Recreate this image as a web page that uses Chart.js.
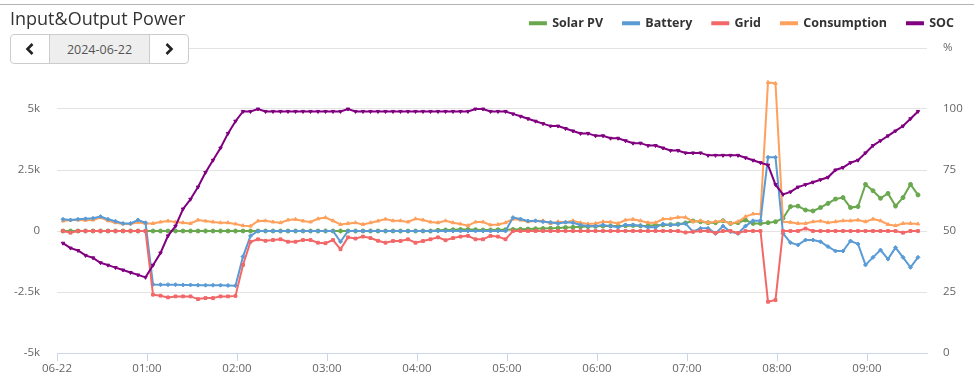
<!DOCTYPE html>
<html lang="en">
<head>
    <meta charset="utf-8" />
    <title>Input&amp;Output Power</title>
    <script src="https://cdn.jsdelivr.net/npm/chart.js@4.4.0/dist/chart.umd.min.js"></script>
    <style>
        body { margin: 0; background: #fff; font-family: "Open Sans", sans-serif; }
        .wrap { position: relative; width: 974px; height: 390px; overflow: hidden; }
        #powerChart { position: absolute; left: 0; top: 0; }
        .topline { position: absolute; left: 0; top: 4px; width: 974px; height: 1px; background: #b3b3b3; }
        .title { position: absolute; left: 10px; top: 5px; font-size: 18px; line-height: 26px; color: #333; }
        .datenav { position: absolute; left: 10px; top: 34px; width: 177px; height: 28px; border: 1px solid #ccc; border-radius: 4px; background: #fff; display: flex; overflow: hidden; }
        .datenav .btn { width: 39px; display: flex; align-items: center; justify-content: center; }
        .datenav .day { width: 100px; border-left: 1px solid #ccc; border-right: 1px solid #ccc; background: #eee; color: #555; font-size: 12.5px; display: flex; align-items: center; justify-content: center; }
    </style>
</head>
<body>
    <div class="wrap">
        <canvas id="powerChart" width="974" height="390"></canvas>
        <div class="topline"></div>
        <div class="title">Input&amp;Output Power</div>
        <div class="datenav">
            <div class="btn"><svg width="10" height="14"><polyline points="7.5,2 2.5,7 7.5,12" fill="none" stroke="#222" stroke-width="2.6" /></svg></div>
            <div class="day">2024-06-22</div>
            <div class="btn"><svg width="10" height="14"><polyline points="2.5,2 7.5,7 2.5,12" fill="none" stroke="#222" stroke-width="2.6" /></svg></div>
        </div>
    </div>

    <script>
        // sample times (5 min log)
        var times = [
            "00:04", "00:09", "00:14", "00:19", "00:24", "00:29", "00:34", "00:39", "00:44", "00:49", "00:54", "00:59",
            "01:04", "01:09", "01:14", "01:19", "01:24", "01:29", "01:34", "01:39", "01:44", "01:49", "01:54", "01:59",
            "02:04", "02:09", "02:14", "02:19", "02:24", "02:29", "02:34", "02:39", "02:44", "02:49", "02:54", "02:59",
            "03:04", "03:09", "03:14", "03:19", "03:24", "03:29", "03:34", "03:39", "03:44", "03:49", "03:54", "03:59",
            "04:04", "04:09", "04:14", "04:19", "04:24", "04:29", "04:34", "04:39", "04:44", "04:49", "04:54", "04:59",
            "05:04", "05:09", "05:14", "05:19", "05:24", "05:29", "05:34", "05:39", "05:44", "05:49", "05:54", "05:59",
            "06:04", "06:09", "06:14", "06:19", "06:24", "06:29", "06:34", "06:39", "06:44", "06:49", "06:54", "06:59",
            "07:04", "07:09", "07:14", "07:19", "07:24", "07:29", "07:34", "07:39", "07:44", "07:49", "07:54", "07:59",
            "08:04", "08:09", "08:14", "08:19", "08:24", "08:29", "08:34", "08:39", "08:44", "08:49", "08:54", "08:59",
            "09:04", "09:09", "09:14", "09:19", "09:24", "09:29", "09:34"
        ];

        var solarPV = [
            0, 0, 0, 0, 0, 0, 0, 0, 0, 0, 0, 0,
            0, 0, 0, 0, 0, 0, 0, 0, 0, 0, 0, 0,
            0, 0, 0, 0, 0, 0, 0, 0, 0, 0, 0, 0,
            0, 0, 0, 0, 0, 0, 0, 0, 0, 0, 0, 0,
            0, 0, 30, 40, 50, 60, 60, 50, 40, 40, 50, 50,
            60, 70, 80, 90, 100, 110, 120, 140, 150, 170, 180, 190,
            200, 210, 200, 220, 230, 210, 220, 240, 250, 260, 280, 330,
            410, 380, 340, 340, 420, 310, 340, 450, 310, 310, 340, 380,
            520, 1000, 1020, 860, 820, 960, 1130, 1310, 1370, 960, 1000, 1910,
            1650, 1340, 1540, 1020, 1370, 1910, 1480
        ];

        var battery = [
            480, 450, 480, 500, 520, 590, 480, 400, 310, 310, 450, 340,
            -2190, -2200, -2200, -2200, -2210, -2210, -2220, -2220, -2220, -2220, -2230, -2240,
            -1050, -200, 0, 0, 0, 0, 0, 0, 0, 0, 0, 0,
            0, -440, 0, 0, 0, 0, 0, 0, 0, 0, 0, 0,
            0, 0, 0, 0, 0, 0, 0, 0, 0, 0, 0, 0,
            550, 490, 410, 420, 380, 360, 310, 360, 340, 250, 200, 200,
            250, 200, 150, 250, 250, 220, 150, 150, 290, 250, 270, 310,
            -30, 110, 110, -100, 200, -30, -100, 200, 420, 420, 3020, 3020,
            -100, -480, -570, -370, -370, -440, -640, -820, -820, -410, -530, -1390,
            -1080, -780, -1150, -680, -1080, -1490, -1080
        ];

        var grid = [
            0, -70, 0, 0, 0, 0, 0, 0, 0, 0, 0, 0,
            -2610, -2650, -2720, -2680, -2680, -2680, -2790, -2750, -2750, -2680, -2680, -2660,
            -1390, -440, -340, -400, -370, -340, -440, -440, -370, -370, -480, -500,
            -370, -750, -260, -310, -230, -290, -400, -480, -410, -410, -340, -480,
            -410, -340, -260, -380, -290, -230, -200, -340, -340, -200, -230, -340,
            0, 0, 0, 0, 0, 0, 0, 0, 0, 0, 0, 0,
            0, 0, 0, 0, 0, 0, 0, 0, 0, 0, 0, -60,
            -30, 0, 0, -80, 0, 0, -80, 0, 0, 0, -2900, -2830,
            0, 0, 0, 100, 0, 0, 0, 0, 0, 0, 0, 0,
            0, 0, 0, 0, -70, 0, 0
        ];

        var consumption = [
            410, 450, 450, 440, 450, 550, 420, 340, 290, 290, 360, 310,
            310, 370, 410, 370, 340, 310, 450, 410, 370, 340, 340, 290,
            220, 200, 410, 420, 370, 340, 450, 480, 410, 370, 500, 550,
            420, 270, 310, 340, 270, 340, 410, 490, 420, 420, 370, 500,
            450, 370, 340, 420, 340, 290, 220, 370, 370, 250, 270, 340,
            490, 450, 380, 410, 420, 310, 380, 360, 420, 340, 290, 310,
            380, 370, 310, 450, 480, 420, 340, 340, 490, 500, 560, 560,
            380, 420, 340, 380, 420, 310, 380, 590, 700, 700, 6090, 6050,
            380, 360, 310, 310, 380, 410, 340, 380, 420, 420, 450, 380,
            490, 420, 270, 220, 310, 310, 290
        ];

        var soc = [
            45, 43, 42, 40, 39, 37, 36, 35, 34, 33, 32, 31,
            36, 41, 48, 52, 59, 63, 68, 74, 79, 84, 90, 95,
            99, 99, 100, 99, 99, 99, 99, 99, 99, 99, 99, 99,
            99, 99, 100, 99, 99, 99, 99, 99, 99, 99, 99, 99,
            99, 99, 99, 99, 99, 99, 99, 100, 100, 99, 99, 99,
            98, 97, 96, 95, 94, 93, 93, 92, 91, 90, 90, 89,
            89, 88, 88, 87, 86, 86, 85, 85, 84, 83, 83, 82,
            82, 82, 81, 81, 81, 81, 81, 80, 79, 78, 77, 69,
            65, 66, 68, 69, 70, 71, 72, 75, 76, 78, 79, 82,
            85, 87, 89, 91, 93, 96, 99
        ];

        var powerTicks = { min: -5000, max: 7500, step: 2500 };
        var socTicks = { min: 0, max: 125, step: 25 };

        function toMinutes(t) {
            var p = t.split(':');
            return parseInt(p[0], 10) * 60 + parseInt(p[1], 10);
        }

        function points(values) {
            return times.map(function (t, i) {
                return { x: toMinutes(t), y: values[i] };
            });
        }

        Chart.defaults.font.family = '"Open Sans", sans-serif';

        var lineStyle = {
            borderWidth: 2,
            pointRadius: 2,
            pointHoverRadius: 3,
            pointBorderWidth: 1,
            tension: 0
        };

        // top grid line of the power axis, drawn from the scale itself
        var topGridLine = {
            id: 'topGridLine',
            afterDraw: function (chart) {
                var y = chart.scales.y;
                var py = Math.round(y.getPixelForValue(powerTicks.max)) + 0.5;
                var c = chart.ctx;
                c.save();
                c.strokeStyle = '#e3e3e3';
                c.lineWidth = 1;
                c.beginPath();
                c.moveTo(chart.chartArea.left, py);
                c.lineTo(chart.chartArea.right, py);
                c.stroke();
                c.restore();
            }
        };

        var ctx = document.getElementById('powerChart').getContext('2d');

        var powerChart = new Chart(ctx, {
            type: 'line',
            data: {
                datasets: [
                    Object.assign({ label: 'Solar PV', data: points(solarPV), borderColor: '#6aa84f', backgroundColor: '#6aa84f', pointStyle: 'circle', yAxisID: 'y', order: 4 }, lineStyle),
                    Object.assign({ label: 'Battery', data: points(battery), borderColor: '#5b9bd5', backgroundColor: '#5b9bd5', pointStyle: 'rectRot', yAxisID: 'y', order: 2 }, lineStyle),
                    Object.assign({ label: 'Grid', data: points(grid), borderColor: '#f26868', backgroundColor: '#f26868', pointStyle: 'rect', yAxisID: 'y', order: 1 }, lineStyle),
                    Object.assign({ label: 'Consumption', data: points(consumption), borderColor: '#ffa05c', backgroundColor: '#ffa05c', pointStyle: 'triangle', yAxisID: 'y', order: 3 }, lineStyle),
                    Object.assign({ label: 'SOC', data: points(soc), borderColor: '#800080', backgroundColor: '#800080', pointStyle: 'triangle', rotation: 180, yAxisID: 'y2', order: 0 }, lineStyle)
                ]
            },
            options: {
                responsive: false,
                animation: false,
                layout: {
                    padding: { top: -3, left: 0, right: 0, bottom: 0 }
                },
                plugins: {
                    legend: {
                        position: 'top',
                        align: 'end',
                        labels: {
                            boxWidth: 16,
                            boxHeight: 2,
                            padding: 20,
                            color: '#333',
                            font: { size: 12.5, weight: 'bold' },
                            sort: function (a, b) { return a.datasetIndex - b.datasetIndex; }
                        }
                    },
                    tooltip: { enabled: false }
                },
                scales: {
                    x: {
                        type: 'linear',
                        min: 0,
                        max: 580,
                        grid: { drawOnChartArea: false, color: '#ccd6eb', tickLength: 8 },
                        border: { color: '#ccd6eb' },
                        ticks: {
                            stepSize: 60,
                            includeBounds: false,
                            autoSkip: false,
                            maxRotation: 0,
                            padding: 1,
                            color: '#666',
                            font: { size: 11.5 },
                            callback: function (v) {
                                if (v === 0) return '06-22';
                                var h = Math.floor(v / 60);
                                return (h < 10 ? '0' : '') + h + ':00';
                            }
                        },
                        afterFit: function (scale) { scale.height = 37; }
                    },
                    y: {
                        position: 'left',
                        min: powerTicks.min,
                        max: powerTicks.max,
                        grid: { color: '#e3e3e3', drawTicks: false },
                        border: { display: false },
                        ticks: {
                            stepSize: powerTicks.step,
                            padding: 17,
                            color: '#666',
                            font: { size: 11.5 },
                            callback: function (v) {
                                if (v === 0) return '0';
                                return (v / 1000) + 'k'; // top label sits under the date box
                            }
                        },
                        afterFit: function (scale) { scale.width = 57; }
                    },
                    y2: {
                        position: 'right',
                        min: socTicks.min,
                        max: socTicks.max,
                        grid: { drawOnChartArea: false, drawTicks: false },
                        border: { display: false },
                        ticks: {
                            stepSize: socTicks.step,
                            padding: 16,
                            color: '#666',
                            font: { size: 11.5 },
                            callback: function (v) {
                                return v === socTicks.max ? '%' : v;
                            }
                        },
                        afterFit: function (scale) { scale.width = 47; }
                    }
                }
            },
            plugins: [topGridLine, {
                id: 'legendHeight',
                beforeInit: function (chart) {
                    var fit = chart.legend.fit;
                    chart.legend.fit = function () {
                        fit.bind(chart.legend)();
                        this.height = 51; // plot top at ~48px
                    };
                }
            }]
        });
    </script>
</body>
</html>
